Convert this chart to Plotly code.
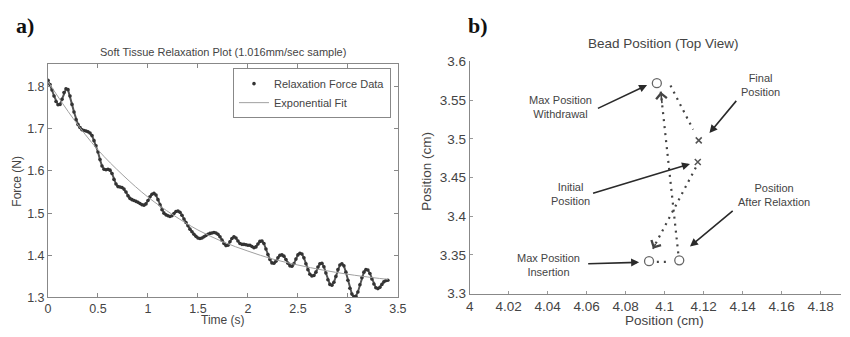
import plotly.graph_objects as go

# ---------------- Panel a) data ----------------
time_step = 0.02
force_data = [
    1.815, 1.805, 1.792, 1.778, 1.765, 1.757, 1.758, 1.770, 1.786, 1.795,
    1.793, 1.778, 1.758, 1.740, 1.722, 1.710, 1.703, 1.698, 1.696, 1.695,
    1.693, 1.690, 1.684, 1.672, 1.660, 1.645, 1.627, 1.612, 1.604, 1.603,
    1.604, 1.602, 1.594, 1.580, 1.569, 1.563, 1.562, 1.561, 1.557, 1.550,
    1.541, 1.535, 1.532, 1.530, 1.528, 1.526, 1.523, 1.520, 1.519, 1.522,
    1.530, 1.539, 1.545, 1.547, 1.543, 1.532, 1.520, 1.508, 1.500, 1.496,
    1.494, 1.492, 1.494, 1.499, 1.504, 1.505, 1.502, 1.495, 1.486, 1.478,
    1.470, 1.462, 1.456, 1.450, 1.445, 1.441, 1.440, 1.441, 1.444, 1.447,
    1.450, 1.452, 1.453, 1.454, 1.453, 1.450, 1.444, 1.436, 1.428, 1.423,
    1.424, 1.432, 1.440, 1.444, 1.441, 1.434, 1.428, 1.426, 1.426, 1.425,
    1.424, 1.424, 1.421, 1.418, 1.420, 1.427, 1.433, 1.434, 1.428, 1.415,
    1.402, 1.390, 1.382, 1.381, 1.386, 1.394, 1.400, 1.401, 1.398, 1.390,
    1.381, 1.375, 1.374, 1.380, 1.391, 1.401, 1.405, 1.403, 1.394, 1.380,
    1.366, 1.355, 1.351, 1.352, 1.360, 1.372, 1.380, 1.381, 1.373, 1.358,
    1.342, 1.331, 1.329, 1.336, 1.350, 1.366, 1.377, 1.380, 1.375, 1.360,
    1.341, 1.322, 1.308, 1.302, 1.303, 1.313, 1.330, 1.347, 1.360, 1.366,
    1.365, 1.357, 1.344, 1.332, 1.323, 1.321, 1.324, 1.331, 1.337, 1.340,
    1.341,
]
time_data = [round(i * time_step, 2) for i in range(len(force_data))]

fit_time = [0, 0.25, 0.5, 0.75, 1.0, 1.25, 1.5, 1.75, 2.0, 2.25, 2.5, 2.75, 3.0, 3.25, 3.4]
fit_force = [1.812, 1.725, 1.650, 1.590, 1.538, 1.496, 1.460, 1.432, 1.410, 1.391,
             1.377, 1.365, 1.355, 1.347, 1.343]

a_xticks = [0, 0.5, 1, 1.5, 2, 2.5, 3, 3.5]
a_xticktext = ["0", "0.5", "1", "1.5", "2", "2.5", "3", "3.5"]
a_yticks = [1.3, 1.4, 1.5, 1.6, 1.7, 1.8]
a_yticktext = ["1.3", "1.4", "1.5", "1.6", "1.7", "1.8"]

# ---------------- Panel b) data ----------------
circle_x = [4.096, 4.092, 4.1075]      # withdrawal, insertion, after relaxation
circle_y = [3.572, 3.342, 3.343]
cross_x = [4.1175, 4.117]              # final, initial
cross_y = [3.498, 3.470]

# dotted movement paths (start -> end)
path_x = [[4.116, 4.094], [4.096, 4.102], [4.107, 4.098], [4.103, 4.1146]]
path_y = [[3.463, 3.358], [3.341, 3.341], [3.352, 3.561], [3.569, 3.512]]

b_xticks = [4, 4.02, 4.04, 4.06, 4.08, 4.1, 4.12, 4.14, 4.16, 4.18]
b_xticktext = ["4", "4.02", "4.04", "4.06", "4.08", "4.1", "4.12", "4.14", "4.16", "4.18"]
b_yticks = [3.3, 3.35, 3.4, 3.45, 3.5, 3.55, 3.6]
b_yticktext = ["3.3", "3.35", "3.4", "3.45", "3.5", "3.55", "3.6"]

labels = ["Max Position<br>Withdrawal", "Final<br>Position", "Initial<br>Position",
          "Position<br>After Relaxtion", "Max Position<br>Insertion"]
label_x = [4.0468, 4.149, 4.0515, 4.156, 4.0406]
label_y = [3.541, 3.5695, 3.4283, 3.427, 3.3364]
pointer_tail_x = [4.065, 4.1374, 4.0625, 4.1357, 4.060]
pointer_tail_y = [3.5385, 3.551, 3.4292, 3.4085, 3.3385]
pointer_head_x = [4.091, 4.123, 4.113, 4.113, 4.0869]
pointer_head_y = [3.5695, 3.5075, 3.4676, 3.361, 3.3405]

FONT = "Liberation Sans, Arial, sans-serif"
W, H = 850, 337

fig = go.Figure()

fig.add_trace(go.Scatter(
    x=time_data, y=force_data, mode="lines", showlegend=False,
    line=dict(color="#555555", width=2), xaxis="x", yaxis="y"))
fig.add_trace(go.Scatter(
    x=time_data, y=force_data, mode="markers", name="Relaxation Force Data",
    marker=dict(size=3.6, color="#333333", symbol="circle", line=dict(width=0)),
    xaxis="x", yaxis="y"))
fig.add_trace(go.Scatter(
    x=fit_time, y=fit_force, mode="lines", name="Exponential Fit",
    line=dict(color="#a0a0a0", width=1, shape="spline"),
    xaxis="x", yaxis="y"))

for px, py in zip(path_x, path_y):
    fig.add_trace(go.Scatter(
        x=px, y=py, mode="lines", showlegend=False,
        line=dict(color="#444444", width=2.2, dash="2px,5px"),
        xaxis="x2", yaxis="y2"))

fig.add_trace(go.Scatter(
    x=circle_x, y=circle_y, mode="markers", showlegend=False,
    marker=dict(symbol="circle-open", size=9, color="#666666", line=dict(width=1.3)),
    xaxis="x2", yaxis="y2"))
fig.add_trace(go.Scatter(
    x=cross_x, y=cross_y, mode="markers", showlegend=False,
    marker=dict(symbol="x-thin-open", size=6, color="#555555", line=dict(width=1.5)),
    xaxis="x2", yaxis="y2"))

annotations = []
# arrowheads for dotted paths
for px, py in zip(path_x, path_y):
    annotations.append(dict(
        x=px[1], y=py[1], ax=px[1] - (px[1] - px[0]) * 0.08, ay=py[1] - (py[1] - py[0]) * 0.08,
        xref="x2", yref="y2", axref="x2", ayref="y2", text="", showarrow=True,
        arrowhead=4, arrowsize=1.3, arrowwidth=1.6, arrowcolor="#444444"))
# pointer arrows
for tx, ty, hx, hy in zip(pointer_tail_x, pointer_tail_y, pointer_head_x, pointer_head_y):
    annotations.append(dict(
        x=hx, y=hy, ax=tx, ay=ty, xref="x2", yref="y2", axref="x2", ayref="y2",
        text="", showarrow=True, arrowhead=2, arrowsize=1.0, arrowwidth=1.6,
        arrowcolor="#2a2a2a"))
for t, lx, ly in zip(labels, label_x, label_y):
    annotations.append(dict(
        x=lx, y=ly, xref="x2", yref="y2", text=t, showarrow=False,
        font=dict(family=FONT, size=11, color="#444444"), align="center"))

# titles / labels
def paper(px, py):
    return px / W, 1 - py / H

for txt, (px, py), size in [
    ("Soft Tissue Relaxation Plot (1.016mm/sec sample)", (222, 47), 11),
    ("Time (s)", (222, 328), 12),
    ("Bead Position (Top View)", (670, 38), 13.5),
    ("Position (cm)", (671, 328), 13.5),
]:
    x, y = paper(px, py)
    annotations.append(dict(x=x, y=y, xref="paper", yref="paper", text=txt, showarrow=False,
                            xanchor="center", yanchor="middle",
                            font=dict(family=FONT, size=size, color="#444444")))
for txt, (px, py), size in [("Force (N)", (13, 182), 12), ("Position (cm)", (429, 172), 13.5)]:
    x, y = paper(px, py)
    annotations.append(dict(x=x, y=y, xref="paper", yref="paper", text=txt, showarrow=False,
                            textangle=-90, xanchor="center", yanchor="middle",
                            font=dict(family=FONT, size=size, color="#444444")))
for txt, (px, py) in [("a)", (21, 19)), ("b)", (481, 19))]:
    x, y = paper(px, py)
    annotations.append(dict(x=x, y=y, xref="paper", yref="paper", text="<b>" + txt + "</b>",
                            showarrow=False, xanchor="center", yanchor="middle",
                            font=dict(family="Liberation Serif, Times New Roman, serif",
                                      size=22, color="#111111")))

tickfont_a = dict(family=FONT, size=12.5, color="#444444")
tickfont_b = dict(family=FONT, size=13.5, color="#444444")

fig.update_layout(
    width=W, height=H, margin=dict(l=0, r=0, t=0, b=0),
    paper_bgcolor="white", plot_bgcolor="white",
    showlegend=True,
    legend=dict(x=393 / W, y=1 - 64 / H, xanchor="right", yanchor="top",
                bgcolor="white", bordercolor="#888888", borderwidth=1,
                font=dict(family=FONT, size=11, color="#444444"),
                tracegroupgap=0, itemwidth=30),
    xaxis=dict(domain=[44.7 / W, 400 / W], range=[0, 3.5], tickvals=a_xticks,
               ticktext=a_xticktext, ticks="inside", ticklen=4, tickcolor="#888888",
               showline=True, linecolor="#888888", linewidth=1, mirror="ticks",
               showgrid=False, zeroline=False, tickfont=tickfont_a, anchor="y"),
    yaxis=dict(domain=[1 - 304 / H, 1 - 60 / H], range=[1.3, 1.853], tickvals=a_yticks,
               ticktext=a_yticktext, ticks="inside", ticklen=4, tickcolor="#888888",
               showline=True, linecolor="#888888", linewidth=1, mirror="ticks",
               showgrid=False, zeroline=False, tickfont=tickfont_a, anchor="x"),
    xaxis2=dict(domain=[473 / W, 1.0], range=[4, 4.1905], tickvals=b_xticks,
                ticktext=b_xticktext, ticks="inside", ticklen=3, tickcolor="#999999",
                showline=True, linecolor="#888888", linewidth=1,
                showgrid=False, zeroline=False, tickfont=tickfont_b, anchor="y2"),
    yaxis2=dict(domain=[1 - 300 / H, 1 - 57 / H], range=[3.3, 3.6], tickvals=b_yticks,
                ticktext=b_yticktext, ticks="inside", ticklen=3, tickcolor="#999999",
                showline=True, linecolor="#888888", linewidth=1,
                showgrid=False, zeroline=False, tickfont=tickfont_b, anchor="x2"),
    annotations=annotations,
)

fig.write_html("out.html")
